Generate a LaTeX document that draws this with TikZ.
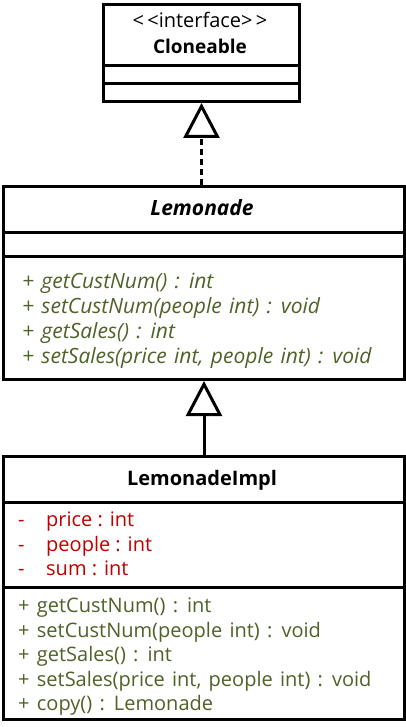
\documentclass[tikz,border=0pt]{standalone}
\usepackage{fontspec}
\setmainfont{Open Sans}
\usetikzlibrary{arrows.meta}
\definecolor{mgreen}{RGB}{79,98,40}
\definecolor{mred}{RGB}{192,0,0}
\newcommand{\myws}{\spaceskip=7.3pt\relax}
\begin{document}
\begin{tikzpicture}[x=1pt,y=-1pt,
  umlbox/.style={draw=black,line width=3pt,fill=white,inner sep=0pt,anchor=north west},
  txt/.style={inner sep=0pt,font=\fontsize{20}{24}\selectfont},
  hdr/.style={txt,anchor=base,font=\fontsize{20}{22}\selectfont\bfseries},
  meth/.style={txt,anchor=base west,text=mgreen,execute at begin node=\myws},
  imeth/.style={meth,font=\fontsize{21}{24}\selectfont\itshape},
  attr/.style={txt,anchor=base west,text=mred},
  gen/.style={line width=3pt,-{Triangle[open,length=35pt,width=36pt,line width=3pt]}}
]
\useasboundingbox (0,0) rectangle (405,727);
% boxes
\node[umlbox,minimum width=196pt,minimum height=97pt] (clone) at (102,3) {};
\node[umlbox,minimum width=401pt,minimum height=193pt] (lem) at (2,185) {};
\node[umlbox,minimum width=401pt,minimum height=263pt] (impl) at (2,455) {};
% compartments
\draw[line width=3pt] (102,66) -- (298,66) (102,84) -- (298,84);
\draw[line width=3pt] (2,232) -- (403,232) (2,256) -- (403,256);
\draw[line width=3pt] (2,502) -- (403,502) (2,587) -- (403,587);
% connectors
\draw[gen,dash pattern=on 6pt off 4pt] (lem.north -| clone.south) -- (clone.south);
\draw[gen] (impl.north) -- (lem.south);
% Cloneable
\node[txt,anchor=base] (c1) at (200,28) {<\,<interface>\,>};
\node[hdr,font=\fontsize{19}{22}\selectfont\bfseries] (c2) at (200,54) {Cloneable};
% Lemonade
\node[hdr,font=\fontsize{21}{24}\selectfont\bfseries\itshape] (l0) at (202,215) {Lemonade};
\node[imeth] (l1) at (22,288) {+ getCustNum() : int};
\node[imeth] (l2) at (22,313) {+ setCustNum(people int) : void};
\node[imeth] (l3) at (22,338) {+ getSales() : int};
\node[imeth] (l4) at (22,363) {+ setSales(price int, people int) : void};
% LemonadeImpl
\node[hdr] (i0) at (202,485) {LemonadeImpl};
\node[attr] (a1d) at (18,526) {-};
\node[attr] (a1) at (46,526) {price : int};
\node[attr] (a2d) at (18,551) {-};
\node[attr] (a2) at (46,551) {people : int};
\node[attr] (a3d) at (18,575) {-};
\node[attr] (a3) at (46,575) {sum : int};
\node[meth] (m1) at (18,612) {+ getCustNum() : int};
\node[meth] (m2) at (18,637) {+ setCustNum(people int) : void};
\node[meth] (m3) at (18,661) {+ getSales() : int};
\node[meth] (m4) at (18,686) {+ setSales(price int, people int) : void};
\node[meth] (m5) at (18,710) {+ copy() : Lemonade};
\end{tikzpicture}
\end{document}
